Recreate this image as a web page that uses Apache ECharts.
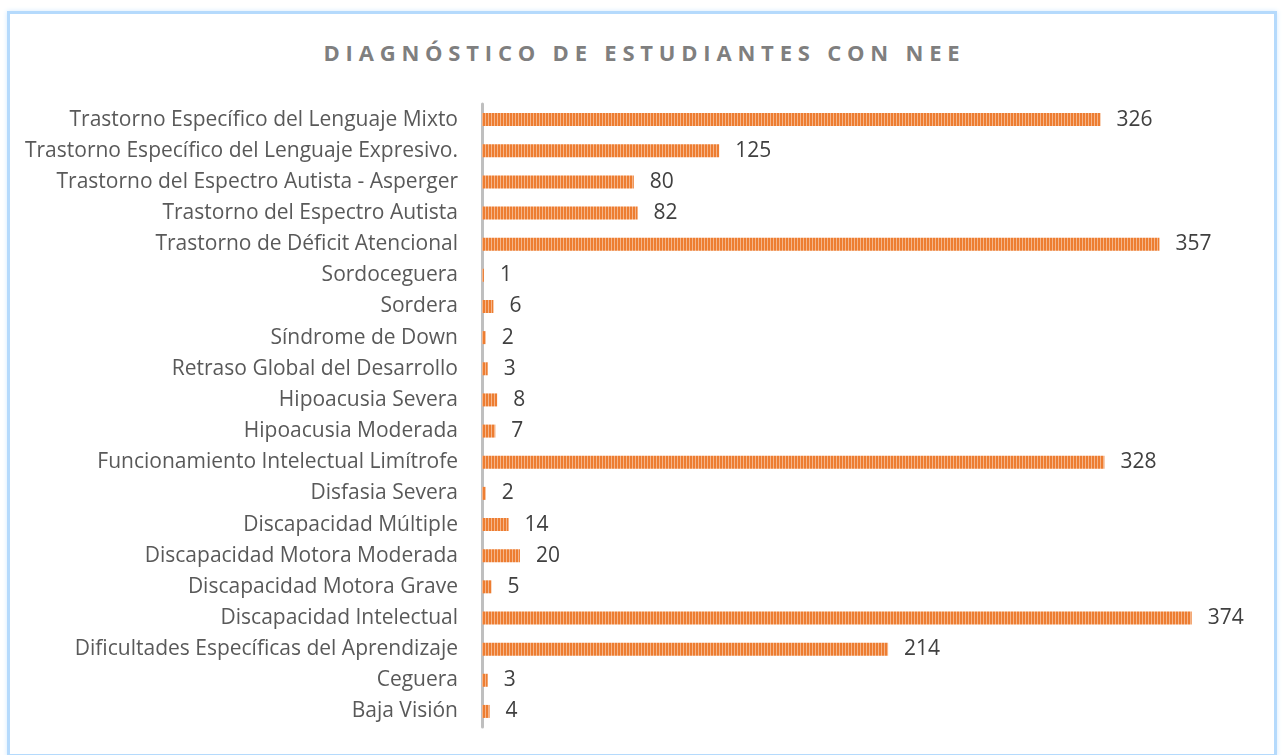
<!DOCTYPE html>
<html>
<head>
<meta charset="utf-8">
<script src="https://cdn.jsdelivr.net/npm/echarts@6/dist/echarts.min.js"></script>
<style>
  html, body { margin: 0; padding: 0; background: #fff; }
  #frame {
    position: absolute; left: 7px; top: 11px; width: 1264px; height: 740px;
    border: 3px solid #b5dafc; box-shadow: 0 0 5px #d5eafd; background: #fff;
  }
  #title {
    position: absolute; left: 0; top: 41px; width: 1283px; text-align: center;
    font-family: "Open Sans", sans-serif; font-weight: bold; font-size: 22px;
    line-height: 22px; letter-spacing: 5.8px; padding-left: 6px; box-sizing: border-box;
    color: #7f7f7f;
  }
  #main { position: absolute; left: 0; top: 0; width: 1283px; height: 755px; }
</style>
</head>
<body>
<div id="frame"></div>
<div id="title">DIAGNÓSTICO DE ESTUDIANTES CON NEE</div>
<div id="main"></div>
<script>
  // categorias, de arriba hacia abajo
  var categories = [
    'Trastorno Específico del Lenguaje Mixto',
    'Trastorno Específico del Lenguaje Expresivo.',
    'Trastorno del Espectro Autista - Asperger',
    'Trastorno del Espectro Autista',
    'Trastorno de Déficit Atencional',
    'Sordoceguera',
    'Sordera',
    'Síndrome de Down',
    'Retraso Global del Desarrollo',
    'Hipoacusia Severa',
    'Hipoacusia Moderada',
    'Funcionamiento Intelectual Limítrofe',
    'Disfasia Severa',
    'Discapacidad Múltiple',
    'Discapacidad Motora Moderada',
    'Discapacidad Motora Grave',
    'Discapacidad Intelectual',
    'Dificultades Específicas del Aprendizaje',
    'Ceguera',
    'Baja Visión'
  ];
  var estudiantes = [326, 125, 80, 82, 357, 1, 6, 2, 3, 8, 7, 328, 2, 14, 20, 5, 374, 214, 3, 4];

  // patron de rayas verticales para las barras
  var pat = document.createElement('canvas');
  pat.width = 3; pat.height = 4;
  var ctx = pat.getContext('2d');
  ctx.fillStyle = '#ed7d31';
  ctx.fillRect(0, 0, 2, 4);
  ctx.fillStyle = '#f5b58a';
  ctx.fillRect(2, 0, 1, 4);

  var myChart = echarts.init(document.getElementById('main'));
  myChart.setOption({
    animation: false,
    textStyle: { fontFamily: 'Open Sans, sans-serif' },
    grid: { left: 482, top: 104, width: 759, height: 623, containLabel: false },
    xAxis: {
      type: 'value', min: 0, max: 400, show: false
    },
    yAxis: {
      type: 'category',
      inverse: true,
      data: categories,
      axisLine: { lineStyle: { color: '#bfbfbf', width: 3 } },
      axisTick: { show: false },
      axisLabel: { color: '#595959', fontSize: 21, margin: 24 }
    },
    series: [{
      type: 'bar',
      data: estudiantes,
      barWidth: 13,
      itemStyle: { color: { image: pat, repeat: 'repeat' } },
      label: {
        show: true, position: 'right', distance: 16,
        color: '#404040', fontSize: 21
      }
    }]
  });
</script>
</body>
</html>
